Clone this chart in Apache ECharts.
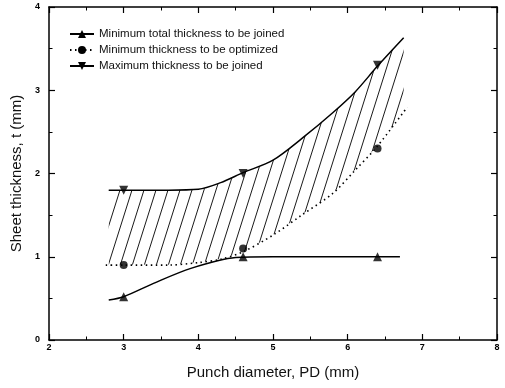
<!DOCTYPE html>
<html>
<head>
<meta charset="utf-8">
<script src="https://cdn.jsdelivr.net/npm/echarts@6/dist/echarts.min.js"></script>
<style>
  html, body { margin: 0; padding: 0; background: #fff; }
  #chart { width: 505px; height: 388px; }
</style>
</head>
<body>
<div id="chart"></div>
<script>
// Measured points
const punchDiameter = [3.0, 4.6, 6.4];
const minTotal      = [0.52, 1.0, 1.0];
const minOptimized  = [0.9, 1.1, 2.3];
const maxJoined     = [1.8, 2.0, 3.3];

// Fitted trend of the minimum total thickness
const minTotalCurveX = [2.8, 3.0, 3.4, 3.9, 4.5, 5.0, 6.0, 6.7];
const minTotalCurveY = [0.48, 0.52, 0.68, 0.86, 0.99, 1.0, 1.0, 1.0];

// Lower boundary of the joinable window (minimum thickness to be optimized)
const lowerCurveX = [2.76, 3.0, 3.6, 4.0, 4.3, 4.6, 5.0, 5.4, 5.8, 6.1, 6.4, 6.8];
const lowerCurveY = [0.9, 0.9, 0.9, 0.93, 0.97, 1.06, 1.26, 1.51, 1.76, 2.04, 2.33, 2.8];

// Upper boundary of the joinable window (maximum thickness to be joined)
const upperCurveX = [2.8, 3.0, 3.6, 4.0, 4.3, 4.6, 5.0, 5.4, 5.8, 6.1, 6.4, 6.75];
const upperCurveY = [1.8, 1.8, 1.8, 1.81, 1.89, 2.01, 2.16, 2.43, 2.73, 2.98, 3.29, 3.63];

const names = [
  'Minimum total thickness to be joined',
  'Minimum thickness to be optimized',
  'Maximum thickness to be joined'
];

const FONT = '"Liberation Sans", Arial, Helvetica, sans-serif';

function pairs(xs, ys) { return xs.map((x, i) => [x, ys[i]]); }

// Diagonal hatch tile
function hatchTile() {
  const w = 12, h = 38;
  const c = document.createElement('canvas');
  c.width = w; c.height = h;
  const ctx = c.getContext('2d');
  ctx.strokeStyle = '#1a1a1a';
  ctx.lineWidth = 1;
  for (const off of [-w, 0, w]) {
    ctx.beginPath();
    ctx.moveTo(off, h);
    ctx.lineTo(off + w, 0);
    ctx.stroke();
  }
  return c;
}

const SMOOTH = 0.3;

// axes are drawn above the window fill and its white underlay
const axisCommon = {
  type: 'value',
  z: 10,
  axisLine: { onZero: false, lineStyle: { color: '#000', width: 1.5 } },
  axisTick: { inside: true, length: 6, lineStyle: { color: '#000', width: 1.2 } },
  minorTick: { show: true, splitNumber: 2, length: 3.5, lineStyle: { color: '#000', width: 1 } },
  splitLine: { show: false },
  minorSplitLine: { show: false }
};

const chart = echarts.init(document.getElementById('chart'), null, { renderer: 'canvas' });

chart.setOption({
  backgroundColor: '#fff',
  animation: false,
  grid: { left: 49, right: 8, top: 7, bottom: 48 },
  legend: {
    data: names,
    orient: 'vertical',
    left: 64,
    top: 23,
    itemWidth: 24,
    itemHeight: 10,
    itemGap: 4,
    textStyle: { fontFamily: FONT, fontSize: 11.5, color: '#111' }
  },
  xAxis: [
    Object.assign({}, axisCommon, {
      min: 2, max: 8, interval: 1, position: 'bottom',
      name: 'Punch diameter, PD (mm)', nameLocation: 'middle', nameGap: 25,
      nameTextStyle: { fontFamily: FONT, fontSize: 15, color: '#111' },
      axisLabel: { margin: 3, fontFamily: FONT, fontSize: 9, fontWeight: 'bold', color: '#000' }
    }),
    Object.assign({}, axisCommon, {
      min: 2, max: 8, interval: 1, position: 'top',
      axisLabel: { show: false }
    })
  ],
  yAxis: [
    Object.assign({}, axisCommon, {
      min: 0, max: 4, interval: 1, position: 'left',
      name: 'Sheet thickness, t (mm)', nameLocation: 'middle', nameGap: 25,
      nameTextStyle: { fontFamily: FONT, fontSize: 15, color: '#111' },
      axisLabel: { margin: 9, fontFamily: FONT, fontSize: 9, fontWeight: 'bold', color: '#000' }
    }),
    Object.assign({}, axisCommon, {
      min: 0, max: 4, interval: 1, position: 'right',
      axisLabel: { show: false }
    })
  ],
  series: [
    // hatch under the upper boundary ...
    {
      type: 'line', name: 'windowHatch',
      data: pairs(upperCurveX, upperCurveY),
      smooth: SMOOTH,
      symbol: 'none', lineStyle: { opacity: 0 }, silent: true, z: 1,
      areaStyle: { origin: 'start', color: { image: hatchTile(), repeat: 'repeat' }, opacity: 1 }
    },
    // ... cleared again below the lower boundary
    {
      type: 'line', name: 'windowClear',
      data: pairs(lowerCurveX, lowerCurveY),
      smooth: SMOOTH,
      symbol: 'none', lineStyle: { color: '#fff', width: 1 }, silent: true, z: 1.5,
      areaStyle: { origin: 'start', color: '#fff', opacity: 1 }
    },
    // trend lines
    {
      type: 'line', name: names[0],
      data: pairs(minTotalCurveX, minTotalCurveY),
      smooth: SMOOTH,
      symbol: 'triangle', symbolSize: 9, showSymbol: false,
      itemStyle: { color: '#000' },
      lineStyle: { color: '#000', width: 1.5 }, z: 3
    },
    {
      type: 'line', name: names[1],
      data: pairs(lowerCurveX, lowerCurveY),
      smooth: SMOOTH,
      symbol: 'circle', symbolSize: 8, showSymbol: false,
      itemStyle: { color: '#000' },
      lineStyle: { color: '#000', width: 1.6, type: [1.5, 3.5] }, z: 3
    },
    {
      type: 'line', name: names[2],
      data: pairs(upperCurveX, upperCurveY),
      smooth: SMOOTH,
      symbol: 'triangle', symbolRotate: 180, symbolSize: 9, showSymbol: false,
      itemStyle: { color: '#000' },
      lineStyle: { color: '#000', width: 1.5 }, z: 3
    },
    // measured points
    {
      type: 'scatter', name: 'minTotalPts', data: pairs(punchDiameter, minTotal),
      symbol: 'triangle', symbolSize: 9, itemStyle: { color: '#000' }, z: 4
    },
    {
      type: 'scatter', name: 'minOptimizedPts', data: pairs(punchDiameter, minOptimized),
      symbol: 'circle', symbolSize: 8, itemStyle: { color: '#000' }, z: 4
    },
    {
      type: 'scatter', name: 'maxJoinedPts', data: pairs(punchDiameter, maxJoined),
      symbol: 'triangle', symbolRotate: 180, symbolSize: 9, itemStyle: { color: '#000' }, z: 4
    }
  ]
});
</script>
</body>
</html>
